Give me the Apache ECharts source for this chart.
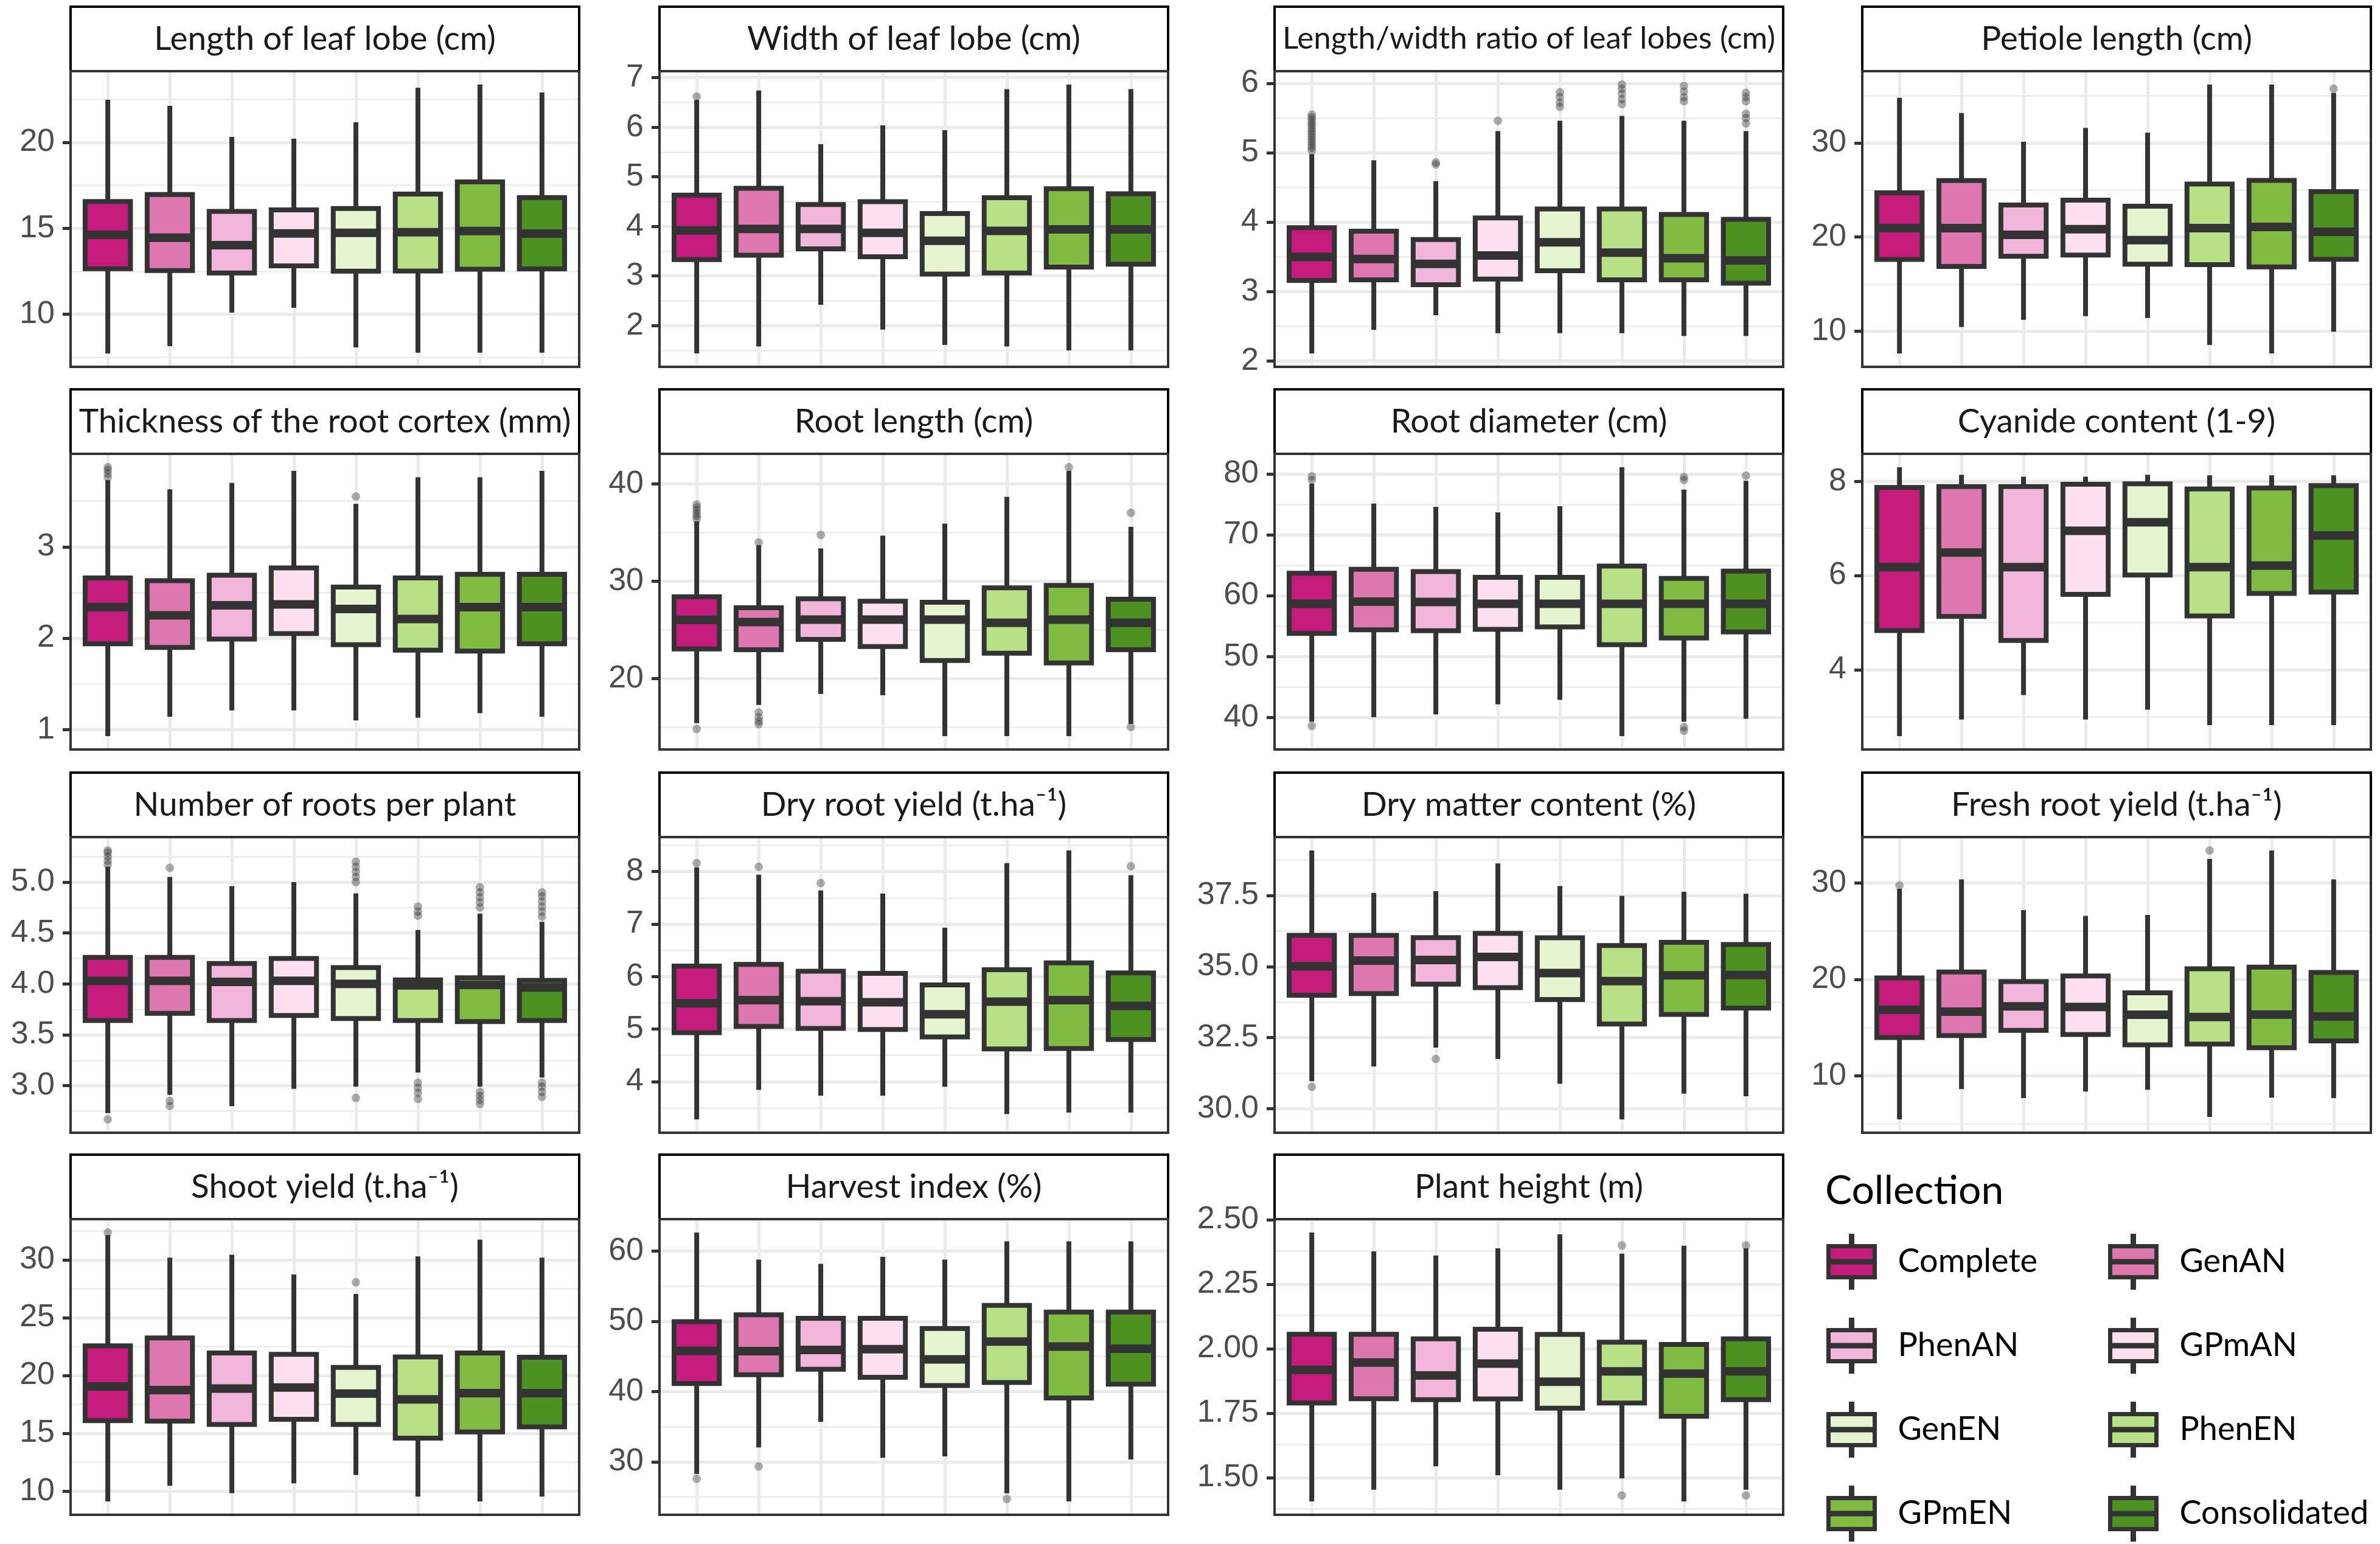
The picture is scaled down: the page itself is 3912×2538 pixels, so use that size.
<!DOCTYPE html>
<html><head><meta charset="utf-8">
<script src="https://cdn.jsdelivr.net/npm/echarts@6/dist/echarts.min.js"></script>
<style>html,body{margin:0;padding:0;background:#fff}#c{width:3912px;height:2538px}</style>
</head><body><div id="c"></div><script>
// ---------- data ----------
const categories = ['Complete','GenAN','PhenAN','GPmAN','GenEN','PhenEN','GPmEN','Consolidated'];
const palette = ['#C51B7D','#DE77AE','#F1B6DA','#FDE0EF','#E6F5D0','#B8E186','#7FBC41','#4D9221'];
const panelTitles = ['Length of leaf lobe (cm)','Width of leaf lobe (cm)','Length/width ratio of leaf lobes (cm)','Petiole length (cm)',
  'Thickness of the root cortex (mm)','Root length (cm)','Root diameter (cm)','Cyanide content (1-9)',
  'Number of roots per plant','Dry root yield (t.ha\u207B\u00B9)','Dry matter content (%)','Fresh root yield (t.ha\u207B\u00B9)',
  'Shoot yield (t.ha\u207B\u00B9)','Harvest index (%)','Plant height (m)'];

// each row: [lower whisker, Q1, median, Q3, upper whisker], one per collection
const leafLength = [[7.73,12.65,14.62,16.56,22.47],[8.15,12.54,14.45,16.96,22.12],[10.10,12.40,14.02,15.98,20.31],[10.38,12.82,14.70,16.07,20.21],[8.08,12.51,14.74,16.15,21.16],[7.77,12.52,14.77,16.99,23.17],[7.77,12.62,14.84,17.70,23.35],[7.77,12.64,14.69,16.79,22.89]];
const leafWidth = [[1.44,3.33,3.92,4.63,6.55],[1.58,3.42,3.95,4.77,6.74],[2.42,3.55,3.95,4.44,5.66],[1.92,3.39,3.87,4.50,6.04],[1.61,3.04,3.71,4.26,5.94],[1.58,3.06,3.91,4.58,6.77],[1.50,3.18,3.94,4.76,6.86],[1.50,3.24,3.94,4.66,6.77]];
const lwRatio = [[2.11,3.16,3.50,3.92,4.98],[2.45,3.17,3.47,3.87,4.89],[2.66,3.10,3.40,3.75,4.59],[2.40,3.18,3.52,4.06,5.31],[2.40,3.30,3.71,4.19,5.46],[2.40,3.17,3.56,4.19,5.53],[2.36,3.17,3.48,4.11,5.46],[2.36,3.12,3.45,4.04,5.31]];
const petiole = [[7.64,17.61,20.94,24.69,34.78],[10.45,16.87,20.94,25.99,33.17],[11.21,17.96,20.23,23.39,30.11],[11.59,18.09,20.82,23.92,31.59],[11.39,17.12,19.67,23.26,31.08],[8.54,17.07,20.94,25.63,36.18],[7.64,16.82,21.07,26.01,36.18],[9.94,17.63,20.56,24.82,35.29]];
const cortex = [[0.93,1.94,2.34,2.66,3.73],[1.14,1.90,2.25,2.63,3.63],[1.21,1.99,2.36,2.69,3.70],[1.21,2.05,2.37,2.77,3.83],[1.10,1.93,2.32,2.56,3.47],[1.13,1.87,2.21,2.66,3.76],[1.18,1.86,2.34,2.70,3.76],[1.14,1.94,2.34,2.70,3.83]];
const rootLength = [[15.4,23.04,26.02,28.40,36.17],[17.28,22.96,25.80,27.28,33.7],[18.40,24.02,26.05,28.20,33.38],[18.27,23.28,26.05,27.95,34.69],[14.07,21.85,26.05,27.83,35.93],[14.07,22.59,25.73,29.33,38.69],[14.07,21.60,26.05,29.58,41.36],[15.31,22.96,25.73,28.15,35.60]];
const rootDiameter = [[39.31,53.80,58.66,63.67,78.4],[40.02,54.39,59.01,64.34,75.12],[40.50,54.24,58.97,63.95,74.57],[42.16,54.47,58.66,63.00,73.66],[42.87,54.87,58.66,63.00,74.69],[36.94,51.95,58.66,64.86,81.08],[39.31,53.05,58.66,62.84,77.41],[39.79,54.04,58.66,64.03,78.87]];
const cyanide = [[2.59,4.83,6.18,7.87,8.30],[2.94,5.13,6.49,7.89,8.14],[3.46,4.62,6.18,7.89,8.10],[2.94,5.60,6.95,7.94,8.10],[3.15,6.01,7.13,7.95,8.14],[2.82,5.14,6.18,7.84,8.13],[2.82,5.62,6.21,7.86,8.13],[2.82,5.65,6.85,7.91,8.13]];
const rootsPerPlant = [[2.73,3.64,4.03,4.26,5.15],[2.91,3.71,4.03,4.26,5.05],[2.80,3.64,4.02,4.20,4.96],[2.97,3.69,4.03,4.25,5.00],[2.99,3.66,4.00,4.16,4.89],[3.13,3.64,3.985,4.04,4.53],[2.99,3.63,3.99,4.06,4.69],[3.08,3.64,3.965,4.035,4.61]];
const dryRootYield = [[3.28,4.93,5.49,6.20,8.08],[3.84,5.05,5.55,6.23,7.94],[3.73,5.01,5.53,6.10,7.64],[3.73,4.99,5.51,6.06,7.58],[3.90,4.85,5.28,5.84,6.93],[3.38,4.62,5.52,6.13,8.16],[3.41,4.63,5.55,6.26,8.40],[3.41,4.80,5.44,6.07,7.93]];
const dryMatter = [[30.97,33.99,35.01,36.10,39.08],[31.49,34.05,35.21,36.10,37.59],[32.15,34.38,35.23,36.02,37.65],[31.75,34.26,35.34,36.17,38.63],[30.88,33.84,34.77,36.01,37.83],[29.63,32.98,34.49,35.74,37.49],[30.53,33.32,34.69,35.85,37.63],[30.44,33.54,34.70,35.78,37.56]];
const freshRootYield = [[5.47,13.96,16.85,20.15,29.4],[8.61,14.16,16.65,20.77,30.39],[7.67,14.71,17.20,19.78,27.19],[8.36,14.28,17.13,20.35,26.59],[8.54,13.21,16.33,18.60,26.69],[5.72,13.28,16.10,21.10,32.51],[7.72,12.91,16.35,21.27,33.38],[7.67,13.61,16.15,20.72,30.39]];
const shootYield = [[9.12,16.10,19.05,22.56,32.13],[10.47,16.06,18.74,23.25,30.18],[9.82,15.77,18.87,21.95,30.44],[10.68,16.21,18.96,21.82,28.73],[11.40,15.77,18.44,20.69,27.04],[9.53,14.58,17.94,21.60,30.29],[9.12,15.12,18.48,21.95,31.74],[9.53,15.56,18.48,21.58,30.18]];
const harvestIndex = [[28.3,41.15,45.79,49.96,62.63],[32.06,42.40,45.75,50.93,58.78],[35.69,43.19,45.93,50.43,58.17],[30.59,42.04,46.04,50.43,59.17],[30.77,40.87,44.58,48.97,58.78],[25.53,41.30,47.11,52.28,61.38],[24.38,39.08,46.40,51.32,61.38],[30.34,41.05,46.11,51.32,61.38]];
const plantHeight = [[1.408,1.789,1.918,2.056,2.45],[1.453,1.806,1.946,2.056,2.377],[1.544,1.802,1.896,2.038,2.361],[1.509,1.805,1.942,2.075,2.389],[1.453,1.769,1.872,2.055,2.443],[1.497,1.789,1.912,2.025,2.368],[1.408,1.738,1.903,2.016,2.399],[1.453,1.802,1.912,2.038,2.389]];

// outliers: [collection index, value]
const leafLengthOut = [];
const leafWidthOut = [[0,6.62]];
const lwRatioOut = [[0,5.03],[0,5.07],[0,5.11],[0,5.15],[0,5.19],[0,5.23],[0,5.27],[0,5.31],[0,5.35],[0,5.39],[0,5.43],[0,5.47],[0,5.51],[0,5.55],
  [2,4.83],[2,4.86],[3,5.46],[4,5.66],[4,5.72],[4,5.80],[4,5.87],[5,5.70],[5,5.77],[5,5.85],[5,5.92],[5,5.98],
  [6,5.74],[6,5.80],[6,5.88],[6,5.96],[7,5.42],[7,5.50],[7,5.56],[7,5.74],[7,5.80],[7,5.86]];
const petioleOut = [[7,35.75]];
const cortexOut = [[0,3.76],[0,3.80],[0,3.84],[0,3.87],[4,3.55]];
const rootLengthOut = [[0,36.4],[0,36.7],[0,37.0],[0,37.3],[0,37.6],[0,37.9],[0,14.8],[1,34.0],[1,16.5],[1,16.0],[1,15.6],[1,15.3],[2,34.77],[6,41.73],[7,37.04],[7,15.0]];
const rootDiameterOut = [[0,79.0],[0,79.6],[0,38.6],[6,79.0],[6,79.5],[6,38.4],[6,37.8],[7,79.7]];
const cyanideOut = [];
const rootsPerPlantOut = [[0,5.17],[0,5.21],[0,5.25],[0,5.29],[0,5.31],[0,2.67],[1,5.14],[1,2.80],[1,2.85],
  [4,5.0],[4,5.05],[4,5.1],[4,5.15],[4,5.2],[4,2.88],[5,4.67],[5,4.71],[5,4.76],[5,2.87],[5,2.93],[5,2.98],[5,3.03],
  [6,4.75],[6,4.8],[6,4.85],[6,4.9],[6,4.95],[6,2.82],[6,2.86],[6,2.9],[6,2.94],
  [7,4.66],[7,4.71],[7,4.76],[7,4.81],[7,4.86],[7,4.9],[7,2.89],[7,2.94],[7,2.99],[7,3.03]];
const dryRootYieldOut = [[0,8.16],[1,8.09],[2,7.78],[7,8.10]];
const dryMatterOut = [[0,30.77],[2,31.75]];
const freshRootYieldOut = [[0,29.76],[5,33.38]];
const shootYieldOut = [[0,32.35],[4,28.06]];
const harvestIndexOut = [[0,27.6],[1,29.34],[5,24.71]];
const plantHeightOut = [[5,2.40],[5,1.431],[7,2.40],[7,1.431]];

// tick labels
const leafLengthTicks = ['10','15','20'];
const leafWidthTicks = ['2','3','4','5','6','7'];
const lwRatioTicks = ['2','3','4','5','6'];
const petioleTicks = ['10','20','30'];
const cortexTicks = ['1','2','3'];
const rootLengthTicks = ['20','30','40'];
const rootDiameterTicks = ['40','50','60','70','80'];
const cyanideTicks = ['4','6','8'];
const rootsPerPlantTicks = ['3.0','3.5','4.0','4.5','5.0'];
const dryRootYieldTicks = ['4','5','6','7','8'];
const dryMatterTicks = ['30.0','32.5','35.0','37.5'];
const freshRootYieldTicks = ['10','20','30'];
const shootYieldTicks = ['10','15','20','25','30'];
const harvestIndexTicks = ['30','40','50','60'];
const plantHeightTicks = ['1.50','1.75','2.00','2.25','2.50'];

const boxSets = [leafLength,leafWidth,lwRatio,petiole,cortex,rootLength,rootDiameter,cyanide,rootsPerPlant,dryRootYield,dryMatter,freshRootYield,shootYield,harvestIndex,plantHeight];
const outSets = [leafLengthOut,leafWidthOut,lwRatioOut,petioleOut,cortexOut,rootLengthOut,rootDiameterOut,cyanideOut,rootsPerPlantOut,dryRootYieldOut,dryMatterOut,freshRootYieldOut,shootYieldOut,harvestIndexOut,plantHeightOut];
const tickSets = [leafLengthTicks,leafWidthTicks,lwRatioTicks,petioleTicks,cortexTicks,rootLengthTicks,rootDiameterTicks,cyanideTicks,rootsPerPlantTicks,dryRootYieldTicks,dryMatterTicks,freshRootYieldTicks,shootYieldTicks,harvestIndexTicks,plantHeightTicks];

// ---------- layout ----------
const colLeft = [116, 1084, 2095, 3061];
const panelTop = [117, 746, 1376, 2004];
const panelW = 836, panelH = 486, stripH = 106;
const GRID = '#EBEBEB', INK = '#333333';

const grids = [], xAxes = [], yAxes = [], series = [], titles = [], graphics = [];

boxSets.forEach((box, i) => {
  const r = Math.floor(i / 4), c = i % 4;
  const L = colLeft[c], T = panelTop[r];
  const outs = outSets[i];
  let lo = Infinity, hi = -Infinity;
  box.forEach(b => { lo = Math.min(lo, b[0]); hi = Math.max(hi, b[4]); });
  outs.forEach(o => { lo = Math.min(lo, o[1]); hi = Math.max(hi, o[1]); });
  const pad = (hi - lo) * 0.05;
  const yMin = lo - pad, yMax = hi + pad;
  const labels = tickSets[i];
  const tickVals = labels.map(Number);
  const step = tickVals[1] - tickVals[0];
  const minors = [];
  for (let k = -1; k < tickVals.length; k++) {
    const m = tickVals[0] + (k + 0.5) * step;
    if (m > yMin && m < yMax) minors.push(m);
  }

  grids.push({ left: L, top: T, width: panelW, height: panelH, show: false, outerBoundsMode: 'none', containLabel: false });
  xAxes.push({ gridIndex: i, type: 'value', min: 0.4, max: 8.6, show: false });
  yAxes.push({
    gridIndex: i, type: 'value', min: yMin, max: yMax,
    axisLine: { show: false }, splitLine: { show: false },
    axisTick: { show: true, length: 13, customValues: tickVals, lineStyle: { color: INK, width: 5 } },
    axisLabel: {
      customValues: tickVals, margin: 26, fontSize: 52, fontFamily: 'Liberation Sans', color: '#4D4D4D',
      formatter: v => { const j = tickVals.findIndex(t => Math.abs(t - v) < 1e-9); return j >= 0 ? labels[j] : ''; }
    }
  });

  const lines = [];
  minors.forEach(m => lines.push({ yAxis: m, lineStyle: { color: GRID, width: 2.5, type: 'solid' } }));
  tickVals.forEach(t => lines.push({ yAxis: t, lineStyle: { color: GRID, width: 5, type: 'solid' } }));
  categories.forEach((name, k) => lines.push({ xAxis: k + 1, lineStyle: { color: GRID, width: 5, type: 'solid' } }));
  series.push({
    type: 'line', xAxisIndex: i, yAxisIndex: i, data: [], silent: true, z: 1,
    markLine: { z: 1, silent: true, symbol: ['none', 'none'], label: { show: false }, animation: false, data: lines }
  });

  series.push({
    type: 'custom', xAxisIndex: i, yAxisIndex: i, silent: true, z: 10,
    encode: { x: 0, y: [1, 2, 3, 4, 5] },
    data: box.map((b, k) => [k + 1].concat(b)),
    renderItem: (params, api) => {
      const x = api.value(0);
      const pLo = api.coord([x, api.value(1)]);
      const pQ1 = api.coord([x, api.value(2)]);
      const pMed = api.coord([x, api.value(3)]);
      const pQ3 = api.coord([x, api.value(4)]);
      const pHi = api.coord([x, api.value(5)]);
      const w = api.size([1, 0])[0] * 0.73;
      const cx = pQ1[0];
      return {
        type: 'group', children: [
          { type: 'line', shape: { x1: cx, y1: pLo[1], x2: cx, y2: pQ1[1] }, style: { stroke: INK, lineWidth: 8 } },
          { type: 'line', shape: { x1: cx, y1: pQ3[1], x2: cx, y2: pHi[1] }, style: { stroke: INK, lineWidth: 8 } },
          { type: 'rect', shape: { x: cx - w / 2, y: pQ3[1], width: w, height: pQ1[1] - pQ3[1] },
            style: { fill: palette[params.dataIndex], stroke: INK, lineWidth: 8 } },
          { type: 'line', shape: { x1: cx - w / 2, y1: pMed[1], x2: cx + w / 2, y2: pMed[1] }, style: { stroke: INK, lineWidth: 14, lineCap: 'butt' } }
        ]
      };
    }
  });

  series.push({
    type: 'scatter', xAxisIndex: i, yAxisIndex: i, silent: true, z: 12,
    symbol: 'circle', symbolSize: 14,
    itemStyle: { color: 'rgba(51,51,51,0.5)' },
    data: outs.map(o => [o[0] + 1, o[1]])
  });

  graphics.push({ type: 'rect', z: 50, silent: true,
    shape: { x: L, y: T - stripH, width: panelW, height: stripH },
    style: { fill: '#FFFFFF', stroke: '#000000', lineWidth: 4 } });
  graphics.push({ type: 'rect', z: 100, silent: true,
    shape: { x: L, y: T, width: panelW, height: panelH },
    style: { fill: 'none', stroke: INK, lineWidth: 4 } });

  titles.push({
    text: panelTitles[i], left: L + panelW / 2, top: T - stripH, textAlign: 'center', padding: 0, z: 200,
    textStyle: { fontFamily: 'Lato', fontSize: panelTitles[i].length > 34 ? 51 : 55, fontWeight: 'normal', color: '#1A1A1A', lineHeight: stripH }
  });
});

// legend holder series
categories.forEach((name, k) => {
  series.push({ type: 'scatter', name: name, xAxisIndex: 0, yAxisIndex: 0, data: [], silent: true,
    itemStyle: { color: palette[k], borderColor: INK, borderWidth: 7 } });
});

titles.push({ text: 'Collection', left: 3000, top: 1925, padding: 0, z: 200,
  textStyle: { fontFamily: 'Lato', fontSize: 66, fontWeight: 'normal', color: '#000000' } });

const keyIcon = 'path://M37 0L39 0L39 17L37 17Z M0 17L76 17L76 68L0 68Z M0 41.5L76 41.5L76 43.5L0 43.5Z M37 68L39 68L39 85L37 85Z';
const legendBase = {
  orient: 'vertical', top: 2028, height: 700, itemWidth: 76, itemHeight: 85, itemGap: 46, padding: 0,
  icon: keyIcon, selectedMode: false,
  itemStyle: { borderColor: INK, borderWidth: 7, opacity: 1 },
  textStyle: { fontFamily: 'Lato', fontSize: 54, color: '#000000', padding: [0, 0, 0, 33] }
};

const option = {
  animation: false,
  backgroundColor: '#FFFFFF',
  title: titles,
  grid: grids, xAxis: xAxes, yAxis: yAxes,
  legend: [
    Object.assign({}, legendBase, { left: 3002, data: [categories[0], categories[2], categories[4], categories[6]] }),
    Object.assign({}, legendBase, { left: 3465, data: [categories[1], categories[3], categories[5], categories[7]] })
  ],
  graphic: graphics,
  series: series
};

const chart = echarts.init(document.getElementById('c'));
chart.setOption(option);
</script></body></html>
